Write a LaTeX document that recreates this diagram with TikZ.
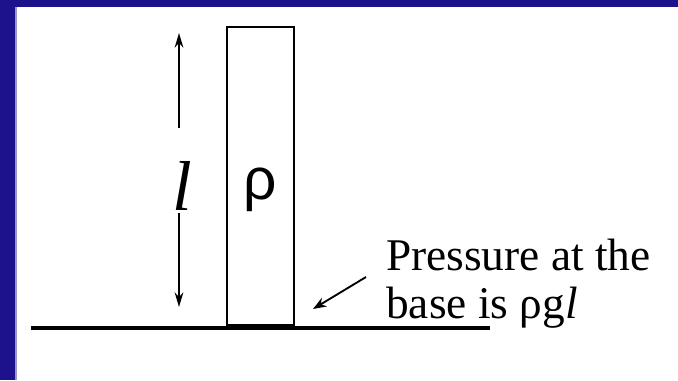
\documentclass[tikz,border=0pt]{standalone}
\usepackage{fontspec}
\setmainfont{Liberation Serif}
\newfontfamily\rhofont{Liberation Sans}
\usetikzlibrary{arrows.meta, positioning}
\definecolor{slideblue}{RGB}{30,18,140}

\begin{document}
\begin{tikzpicture}[
			x=0.75pt, y=-0.75pt,
			column/.style={
				draw,
				line width=1.5pt,
				minimum width=50.25pt,
				minimum height=223.5pt,
				inner sep=0pt,
				text height=44pt,
				text depth=9pt,
				font=\rhofont\fontsize{44}{44}\selectfont
			},
			ell/.style={font=\fontsize{53}{53}\selectfont\itshape, inner sep=0pt},
			dim/.style={-{Stealth[length=11pt, width=6.5pt]}, line width=1.3pt},
			note/.style={-{Stealth[length=10pt, width=7.5pt]}, line width=1.4pt},
			ground/.style={line width=3pt},
			caption/.style={
				font=\fontsize{34}{36}\selectfont,
				align=left,
				inner sep=0pt
			}
			]
			
			\useasboundingbox (0,0) rectangle (678,380);
			\fill[slideblue] (0,0) rectangle (15,380);
			\fill[slideblue] (0,0) rectangle (678,7);
			\fill[slideblue!45] (15,7) rectangle (16.5,380);
			
			\node[column] (col) at (260.5,176) {ρ};
			\node[ell] (len) at (182,186) {l};
			
			\coordinate (uptail) at (179,128);
			\coordinate (uptip) at (179,33);
			\coordinate (dntail) at (179,213);
			\coordinate (dntip) at (179,307);
			\draw[dim] (uptail) -- (uptip);
			\draw[dim] (dntail) -- (dntip);
			
			\coordinate (gl) at (31,328);
			\coordinate (gr) at (490,328);
			\draw[ground] (gl) -- (gr);
			
			\node[caption, anchor=north west] (press) at (386,239) {Pressure at the\\base is ρg\textit{l}};
			\coordinate (notetail) at (366,277);
			\coordinate (notetip) at (313,309);
			\draw[note] (notetail) -- (notetip);
			
		\end{tikzpicture}
\end{document}
